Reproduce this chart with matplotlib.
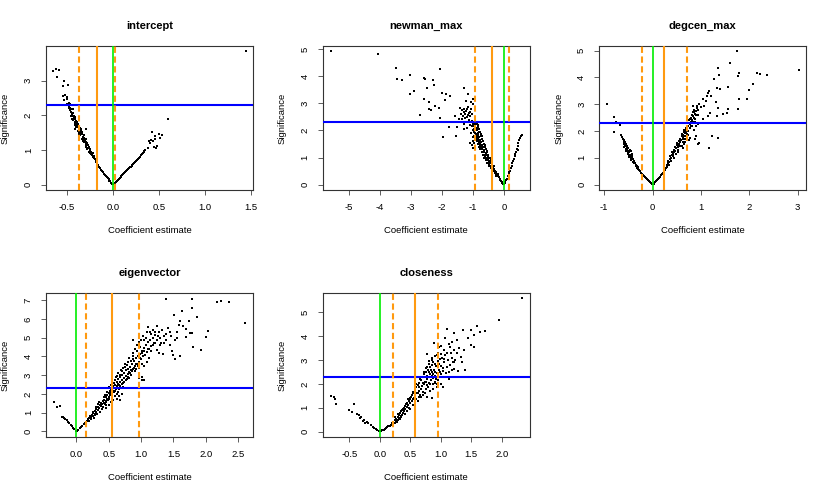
import numpy as np
import matplotlib
matplotlib.use("Agg")
import matplotlib.pyplot as plt

plt.rcParams['font.family'] = ['Liberation Sans', 'DejaVu Sans']

# --- data: (coefficient estimate, significance) ---
intercept_pts = [
    [-0.01,0.03],[-0.02,0.06],[-0.03,0.1],[-0.04,0.12],[-0.05,0.16],[-0.06,0.19],[-0.07,0.22],[-0.08,0.26],
    [-0.09,0.29],[-0.10,0.32],[-0.11,0.36],[-0.12,0.39],[-0.13,0.43],[-0.14,0.47],[-0.15,0.5],[-0.16,0.54],
    [-0.17,0.58],[-0.18,0.62],[-0.19,0.65],[-0.19,0.7],[-0.2,0.73],[-0.21,0.76],[-0.22,0.8],[-0.21,0.84],
    [-0.23,0.86],[-0.24,0.88],[-0.22,0.92],[-0.24,0.95],[-0.25,0.98],[-0.26,0.94],[-0.25,1.03],[-0.27,1.05],
    [-0.28,1.02],[-0.26,1.1],[-0.28,1.13],[-0.29,1.16],[-0.3,1.12],[-0.28,1.2],[-0.3,1.24],[-0.31,1.27],
    [-0.32,1.22],[-0.3,1.32],[-0.32,1.35],[-0.33,1.38],[-0.34,1.33],[-0.32,1.42],[-0.34,1.45],[-0.35,1.48],
    [-0.36,1.44],[-0.34,1.52],[-0.36,1.56],[-0.37,1.59],[-0.38,1.54],[-0.36,1.63],[-0.38,1.66],[-0.39,1.7],
    [-0.4,1.65],[-0.38,1.74],[-0.4,1.77],[-0.41,1.8],[-0.42,1.76],[-0.4,1.85],[-0.42,1.88],[-0.43,1.92],
    [-0.44,1.87],[-0.42,1.96],[-0.44,1.99],[-0.45,2.03],[-0.46,1.98],[-0.44,2.07],[-0.46,2.1],[-0.47,2.14],
    [-0.45,2.18],[-0.47,2.22],[-0.48,2.26],[-0.46,2.29],[-0.49,2.3],[-0.47,2.33],[-0.25,0.9],[-0.33,1.28],
    [-0.37,1.49],[-0.41,1.71],[-0.35,1.62],[-0.39,1.82],[-0.3,1.6],
    [-0.27,1.15],[-0.29,1.08],[-0.31,1.33],[-0.33,1.25],[-0.35,1.55],[-0.37,1.45],[-0.39,1.75],[-0.41,1.62],
    [-0.43,1.98],[-0.45,1.9],[-0.44,2.17],[-0.48,2.2],
    [-0.48,2.35],[-0.5,2.32],[-0.44,2.29],[-0.53,2.45],[-0.55,2.55],[-0.5,2.52],[-0.5,2.46],[-0.52,2.6],
    [-0.49,2.87],[-0.53,3.0],[-0.61,3.12],[-0.59,3.3],[-0.62,3.35],[-0.65,3.27],[-0.55,2.85],
    [0.01,0.03],[0.02,0.06],[0.03,0.09],[0.04,0.11],[0.05,0.14],[0.06,0.17],[0.07,0.2],[0.08,0.22],
    [0.09,0.25],[0.1,0.28],[0.11,0.31],[0.12,0.33],[0.13,0.36],[0.14,0.39],[0.15,0.42],[0.16,0.44],
    [0.17,0.47],[0.18,0.5],[0.19,0.52],[0.2,0.55],[0.21,0.58],[0.22,0.6],[0.23,0.63],[0.24,0.66],
    [0.25,0.68],[0.26,0.72],[0.27,0.75],[0.28,0.78],[0.29,0.8],[0.3,0.85],[0.31,0.88],[0.32,0.9],
    [0.33,0.94],[0.34,0.98],[0.35,1.0],[0.38,1.05],[0.39,1.25],[0.4,1.2],[0.41,1.3],[0.42,1.53],
    [0.43,1.27],[0.44,1.1],[0.45,1.33],[0.46,1.4],[0.47,1.05],[0.48,1.12],[0.5,1.46],[0.51,1.36],
    [0.53,1.43],[0.6,1.88],[1.44,3.85],
]

newman_pts = [
    [-5.57,4.95],[-4.05,4.82],[-3.47,4.32],[-3.43,3.89],[-3.28,3.85],[-3.01,4.04],[-2.56,3.94],[-2.53,3.91],
    [-2.28,3.86],[-2.07,4.28],[-2.26,3.67],[-2.47,3.56],[-2.9,3.46],[-3.03,3.36],[-2.58,3.17],[-2.42,3.05],
    [-2.4,2.78],[-2.34,2.76],[-2.21,2.9],[-2.08,2.84],[-2.05,2.47],[-2.69,2.56],[-2.0,3.4],[-1.86,3.36],
    [-1.73,3.27],[-1.89,3.13],[-1.3,3.57],[-1.16,3.33],[-1.41,2.84],[-1.57,2.53],[-1.76,2.13],[-1.96,1.77],
    [-1.55,1.8],[-1.51,2.13],[-1.46,2.41],[-0.98,3.15],[-0.98,2.96],[-1.22,3.1],[-1.05,3.05],
    [-1.38,2.6],[-1.35,2.75],[-1.32,2.55],[-1.3,2.68],[-1.28,2.8],[-1.26,2.45],[-1.24,2.62],[-1.22,2.72],
    [-1.2,2.5],[-1.18,2.78],[-1.16,2.58],[-1.14,2.66],[-1.12,2.4],[-1.1,2.7],[-1.08,2.52],[-1.06,2.78],
    [-1.04,2.35],[-1.02,2.6],[-1.35,2.42],[-1.42,2.3],[-1.25,2.32],[-1.15,2.85],[-1.1,2.2],[-1.3,2.05],
    [-1.2,2.1],[-1.05,1.9],[-1.0,1.75],[-1.03,2.15],[-1.28,2.25],
    [-0.96,2.3],[-0.92,2.25],[-0.88,2.28],[-0.85,2.2],[-0.95,2.15],[-0.9,2.1],[-0.82,2.12],[-0.93,2.02],
    [-0.87,2.0],[-0.8,2.05],[-0.97,1.95],[-0.84,1.92],[-0.78,1.95],[-0.9,1.88],[-0.82,1.85],[-0.75,1.86],
    [-0.95,1.8],[-0.86,1.78],[-0.79,1.76],[-0.72,1.78],[-0.9,1.7],[-0.83,1.68],[-0.76,1.66],[-0.7,1.7],
    [-0.87,1.6],[-0.8,1.58],[-0.73,1.58],[-0.67,1.6],[-0.83,1.5],[-0.76,1.5],[-0.7,1.48],[-0.64,1.5],
    [-0.8,1.4],[-0.73,1.4],[-0.66,1.38],[-0.6,1.4],[-0.77,1.3],[-0.7,1.3],[-0.63,1.28],[-0.57,1.3],
    [-0.72,1.2],[-0.65,1.2],[-0.59,1.18],[-0.53,1.2],[-0.68,1.1],[-0.61,1.1],[-0.55,1.08],[-0.5,1.1],
    [-0.64,1.0],[-0.57,1.0],[-0.51,0.98],[-0.46,1.0],[-0.58,0.9],[-0.52,0.9],[-0.47,0.88],[-0.42,0.9],
    [-0.53,0.8],[-0.47,0.8],[-0.42,0.78],[-0.38,0.8],[-0.47,0.7],[-0.42,0.7],[-0.37,0.68],[-0.33,0.7],
    [-0.4,0.6],[-0.35,0.6],[-0.31,0.58],[-0.33,0.5],[-0.29,0.5],[-0.26,0.48],[-0.27,0.4],[-0.23,0.4],
    [-0.2,0.38],[-0.2,0.3],[-0.17,0.28],[-0.14,0.22],[-0.12,0.18],[-0.1,0.15],[-0.07,0.1],[-0.05,0.07],
    [-0.03,0.04],[-0.01,0.01],[-1.0,1.6],[-1.02,1.45],[-0.98,1.35],[-1.08,1.55],[-0.99,2.0],[-1.0,2.22],
    [-0.93,2.35],[-0.9,2.22],[-0.86,2.1],[-0.8,1.95],[-0.74,1.8],[-0.68,1.62],[-0.62,1.45],[-0.56,1.25],
    [-0.5,1.05],[-0.44,0.85],[-0.38,0.65],[-0.92,1.9],[-0.88,1.75],[-0.85,1.62],[-0.78,1.45],[-0.75,1.35],
    [-0.69,1.2],[-0.62,1.05],[-0.55,0.9],[-0.48,0.75],[-0.43,0.62],[-0.36,0.5],[-0.3,0.42],[-0.24,0.32],
    [-0.93,1.65],[-0.96,2.05],[-0.96,1.55],
    [0.02,0.05],[0.05,0.1],[0.08,0.17],[0.1,0.22],[0.13,0.3],[0.15,0.38],[0.18,0.45],[0.2,0.52],
    [0.22,0.6],[0.25,0.7],[0.27,0.78],[0.3,0.86],[0.32,0.95],[0.35,1.05],[0.37,1.12],[0.4,1.22],
    [0.42,1.3],[0.45,1.42],[0.47,1.55],[0.52,1.72],[0.55,1.8],[0.57,1.84],[0.5,1.65],[0.44,1.28],[0.38,1.2],
]

degcen_pts = [
    [-0.95,2.99],[-0.79,2.52],[-0.76,2.33],[-0.74,2.3],[-0.72,2.28],[-0.67,2.21],[-0.79,1.96],
    [-0.65,1.85],[-0.63,1.78],[-0.62,1.7],[-0.6,1.65],[-0.6,1.58],[-0.58,1.52],[-0.56,1.45],[-0.55,1.5],
    [-0.53,1.38],[-0.52,1.3],[-0.55,1.32],[-0.5,1.25],[-0.48,1.2],[-0.51,1.15],[-0.46,1.12],[-0.44,1.05],
    [-0.48,1.02],[-0.42,1.0],[-0.4,0.95],[-0.45,0.92],[-0.38,0.9],[-0.41,0.85],[-0.36,0.8],[-0.35,0.75],
    [-0.33,0.7],[-0.31,0.65],[-0.3,0.6],[-0.28,0.55],[-0.26,0.5],[-0.24,0.45],[-0.22,0.4],[-0.2,0.36],
    [-0.18,0.32],[-0.16,0.28],[-0.14,0.24],[-0.12,0.2],[-0.1,0.16],[-0.08,0.12],[-0.06,0.09],[-0.04,0.06],
    [-0.02,0.03],[-0.47,1.1],[-0.43,1.08],[-0.5,1.35],[-0.57,1.6],[-0.38,0.85],[-0.45,1.25],
    [-0.58,1.4],[-0.54,1.25],[-0.49,1.12],[-0.44,0.98],[-0.39,0.82],[-0.42,1.15],[-0.47,1.3],[-0.52,1.45],
    [-0.35,0.7],[-0.32,0.62],[-0.5,1.18],[-0.43,0.95],
    [0.02,0.03],[0.04,0.07],[0.06,0.1],[0.08,0.14],[0.1,0.18],[0.12,0.22],[0.14,0.26],[0.16,0.3],
    [0.18,0.35],[0.2,0.4],[0.22,0.45],[0.24,0.5],[0.26,0.55],[0.28,0.62],[0.29,0.7],[0.3,0.75],
    [0.32,0.8],[0.33,0.9],[0.35,0.85],[0.36,0.95],[0.37,1.05],[0.39,1.0],[0.4,1.1],[0.42,1.15],
    [0.41,1.22],[0.44,1.2],[0.45,1.3],[0.47,1.25],[0.46,1.4],[0.49,1.38],[0.5,1.48],[0.52,1.42],
    [0.51,1.55],[0.54,1.52],[0.55,1.62],[0.57,1.58],[0.56,1.7],[0.59,1.68],[0.6,1.8],[0.62,1.75],
    [0.61,1.88],[0.64,1.85],[0.65,1.95],[0.67,1.92],[0.66,2.05],[0.69,2.02],[0.7,2.12],[0.72,2.08],
    [0.71,2.2],[0.74,2.18],[0.75,2.3],[0.77,2.25],[0.76,2.4],[0.79,2.35],[0.8,2.5],[0.82,2.42],
    [0.81,2.6],[0.84,2.55],[0.86,2.7],[0.88,2.62],[0.85,2.8],[0.9,2.75],[0.92,2.85],[0.95,2.8],
    [0.68,1.6],[0.6,1.45],[0.78,1.75],[0.72,1.9],[0.63,1.35],[0.53,1.2],[0.45,1.0],[0.65,1.5],
    [0.7,1.8],[0.82,2.2],[0.88,2.35],[0.75,1.65],
    [0.3,0.65],[0.34,0.75],[0.38,0.88],[0.43,1.05],[0.48,1.15],[0.52,1.3],[0.55,1.45],[0.58,1.45],
    [0.62,1.6],[0.66,1.8],[0.68,1.72],[0.73,2.0],[0.77,2.12],[0.8,2.2],[0.83,2.35],[0.86,2.5],
    [0.88,2.45],[0.93,2.6],[0.74,1.85],[0.7,1.95],[0.63,1.7],[0.78,2.45],[0.84,2.7],[0.9,2.6],
    [0.83,2.93],[0.97,2.99],[1.1,3.12],[1.14,3.43],[1.17,3.49],[1.75,5.0],[1.6,4.55],[1.35,4.36],
    [1.28,3.95],[1.38,4.08],[1.33,3.62],[1.4,3.58],[1.56,3.64],[1.79,4.17],[1.76,4.05],[2.15,4.17],
    [2.22,4.11],[2.37,4.08],[3.03,4.27],[2.08,3.76],[2.0,3.52],[1.95,3.2],[1.78,3.2],[1.76,2.81],
    [1.57,2.81],[1.53,2.68],[1.45,2.62],[1.35,2.87],[1.31,3.08],[1.33,2.56],[1.22,1.81],[1.35,1.75],
    [1.16,1.35],[0.97,1.54],[0.9,1.81],[0.97,2.31],[1.04,2.31],[1.14,2.56],[1.19,2.68],[1.07,2.93],
    [1.04,3.18],[1.12,3.3],[1.2,3.3],[1.0,2.9],[0.92,2.95],[1.05,2.45],[0.95,2.25],[0.9,2.2],
    [0.85,2.05],[0.93,1.5],[0.88,1.7],
]

eigen_pts = [
    [-0.35,1.59],[-0.3,1.32],[-0.26,1.36],[-0.22,0.79],[-0.2,0.75],[-0.19,0.71],[-0.17,0.66],[-0.15,0.6],
    [-0.13,0.52],[-0.11,0.44],[-0.09,0.36],[-0.07,0.28],[-0.05,0.2],[-0.03,0.12],[-0.01,0.04],
    [0.01,0.04],[0.03,0.1],[0.05,0.17],[0.07,0.24],[0.09,0.3],[0.11,0.37],[0.13,0.44],[0.15,0.5],
    [0.17,0.57],[0.18,0.65],[0.2,0.7],[0.21,0.8],[0.22,0.75],[0.24,0.9],[0.25,0.82],[0.26,1.0],
    [0.28,0.95],[0.28,1.1],[0.3,1.05],[0.31,1.2],[0.33,1.15],[0.33,1.3],[0.35,1.25],[0.36,1.4],
    [0.38,1.35],[0.38,1.5],[0.4,1.45],[0.41,1.6],[0.43,1.52],[0.43,1.7],[0.45,1.62],[0.46,1.82],
    [0.48,1.75],[0.48,1.95],[0.5,1.85],[0.5,2.05],[0.52,1.95],[0.52,2.15],[0.54,2.05],[0.54,2.25],
    [0.56,2.18],[0.57,2.4],[0.59,2.3],[0.6,2.5],[0.62,2.4],[0.62,2.65],[0.64,2.55],[0.65,2.8],
    [0.67,2.65],[0.68,2.9],[0.7,2.75],[0.71,3.0],[0.73,2.85],[0.74,3.1],[0.76,2.95],[0.77,3.25],
    [0.79,3.05],[0.8,3.35],[0.82,3.15],[0.83,3.45],[0.85,3.25],[0.86,3.6],[0.88,3.35],[0.89,3.75],
    [0.91,3.5],[0.92,3.9],[0.94,3.6],[0.95,4.0],[0.97,3.7],[0.98,4.15],[1.0,3.85],[1.01,4.3],
    [1.03,4.0],[1.04,4.45],[1.06,4.1],[1.07,4.6],[1.09,4.25],[1.1,4.75],[1.12,4.4],[1.14,4.9],
    [1.16,4.55],[1.18,5.0],[1.2,4.7],[1.22,5.15],[1.25,4.85],[1.28,5.3],[1.3,5.0],[1.33,5.4],
    [1.36,5.1],[0.45,1.4],[0.55,1.9],[0.58,2.6],[0.66,2.45],[0.72,2.6],[0.78,2.8],[0.84,3.0],
    [0.9,3.2],[0.96,3.4],[1.02,3.6],[0.6,2.15],[0.7,3.2],[0.8,3.7],[0.88,4.0],[0.93,4.3],
    [0.98,4.5],[1.05,4.9],[0.35,1.55],[0.63,2.95],[0.75,3.45],[0.87,3.85],[0.5,2.3],[0.42,1.85],
    [0.3,1.3],[0.82,2.85],[0.92,3.35],[0.66,2.25],[1.12,3.9],[1.05,3.5],[0.97,2.85],[1.01,2.75],
    [1.05,2.73],[1.01,2.91],[1.09,3.7],[0.88,4.85],[0.72,2.35],[0.4,1.2],[0.62,2.0],
    [0.2,0.55],[0.23,0.65],[0.25,1.05],[0.27,0.7],[0.29,0.85],[0.32,0.95],[0.34,1.45],[0.36,1.05],
    [0.39,1.2],[0.41,1.3],[0.44,1.45],[0.44,1.95],[0.46,1.55],[0.47,2.1],[0.49,1.65],[0.51,1.75],
    [0.51,2.35],[0.53,2.45],[0.55,2.0],[0.56,2.6],[0.58,2.1],[0.59,2.75],[0.61,2.25],[0.61,2.9],
    [0.63,2.3],[0.64,3.1],[0.65,2.1],[0.67,3.0],[0.68,2.4],[0.69,3.3],[0.71,2.55],[0.72,3.4],
    [0.74,2.65],[0.75,3.6],[0.77,2.75],[0.78,3.55],[0.79,2.9],[0.81,3.9],[0.83,3.1],[0.84,3.75],
    [0.86,3.2],[0.87,4.2],[0.89,3.4],[0.9,4.4],[0.92,3.6],[0.94,4.6],[0.95,3.5],[0.97,4.75],
    [0.99,3.9],[1.0,4.9],[1.02,4.2],[1.03,5.1],[1.05,4.3],[1.08,5.0],[1.1,4.4],[1.13,5.3],
    [1.15,4.3],[1.18,4.6],[1.19,5.4],[1.22,4.7],[1.26,5.1],[1.31,4.7],[0.66,1.9],[0.7,2.0],
    [0.73,2.3],[0.68,1.7],[0.62,1.75],[0.57,1.65],[0.53,1.55],[0.6,1.9],[0.46,1.25],[0.51,1.4],
    [1.38,7.05],[1.78,7.05],[1.78,6.58],[2.17,6.91],[2.24,6.93],[2.36,6.88],[2.61,5.77],[2.04,5.33],
    [2.01,5.06],[1.93,4.32],[1.81,4.5],[1.79,5.24],[1.87,6.12],[1.74,5.87],[1.63,6.4],[1.51,6.21],
    [1.6,5.91],[1.65,5.64],[1.69,5.45],[1.75,5.26],[1.56,5.29],[1.47,5.11],[1.52,4.89],[1.39,4.85],
    [1.45,4.59],[1.5,4.06],[1.53,3.88],[1.34,4.11],[1.24,4.36],[1.29,4.59],[1.21,5.29],[1.11,5.56],
    [1.09,5.29],[1.42,5.5],[1.55,5.0],[1.6,4.0],[1.25,5.6],[1.35,4.7],[1.45,5.3],[1.58,5.7],
    [1.7,5.05],[1.48,4.3],[1.15,5.2],[1.27,4.2],[1.38,5.2],
]

closeness_pts = [
    [-0.8,1.49],[-0.75,1.46],[-0.74,1.35],[-0.72,1.18],[-0.42,1.15],[-0.5,0.9],[-0.45,0.81],[-0.34,0.69],
    [-0.31,0.63],[-0.38,0.75],[-0.33,0.58],[-0.26,0.49],[-0.22,0.42],[-0.19,0.35],[-0.15,0.28],[-0.12,0.21],
    [-0.09,0.15],[-0.07,0.1],[-0.04,0.06],[-0.02,0.03],[-0.28,0.45],[-0.24,0.38],
    [0.02,0.03],[0.04,0.06],[0.06,0.09],[0.08,0.12],[0.1,0.15],[0.12,0.18],[0.14,0.22],[0.16,0.26],
    [0.18,0.3],[0.2,0.28],[0.2,0.36],[0.22,0.4],[0.24,0.35],[0.24,0.48],[0.26,0.45],[0.27,0.55],
    [0.28,0.42],[0.29,0.62],[0.3,0.5],[0.31,0.7],[0.32,0.58],[0.33,0.78],[0.34,0.65],[0.35,0.85],
    [0.36,0.72],[0.37,0.92],[0.38,0.8],[0.39,1.0],[0.4,0.88],[0.41,1.08],[0.42,0.95],[0.43,1.15],
    [0.44,1.02],[0.45,1.22],[0.46,1.1],[0.47,1.3],[0.48,1.0],[0.49,1.38],[0.5,1.2],[0.51,1.45],
    [0.52,1.28],[0.53,1.55],[0.54,1.35],[0.55,1.65],[0.56,1.42],[0.57,1.75],[0.58,1.5],[0.6,1.85],
    [0.6,1.35],[0.62,1.6],[0.63,1.95],[0.64,1.7],[0.65,2.05],[0.66,1.55],[0.67,1.8],[0.68,2.15],
    [0.69,1.9],[0.7,2.3],[0.71,1.65],[0.72,2.0],[0.73,2.4],[0.74,2.1],[0.75,1.8],[0.76,2.5],
    [0.77,2.2],[0.78,1.95],[0.79,2.6],[0.8,2.3],[0.81,2.05],[0.82,2.7],[0.83,2.4],[0.84,2.15],
    [0.85,2.8],[0.86,2.5],[0.87,2.25],[0.88,2.9],[0.89,2.6],[0.9,2.1],[0.91,2.35],[0.92,2.75],
    [0.93,2.0],[0.94,2.45],[0.95,2.95],[0.96,2.3],[0.97,2.6],[0.98,3.05],[1.0,2.4],[1.01,2.75],
    [1.02,3.1],[1.04,2.55],[1.05,2.9],[1.07,3.2],[1.08,2.3],[1.1,2.7],[1.12,3.0],[1.14,2.5],
    [1.16,3.3],[1.18,2.6],[1.2,2.9],[1.22,3.4],[0.75,2.65],[0.8,2.85],[0.85,3.0],[0.9,3.15],
    [0.95,3.3],[0.7,1.55],[0.65,1.45],[0.55,1.1],[0.45,0.85],[0.35,0.6],[0.82,1.7],[0.88,1.8],
    [0.8,2.5],[0.9,2.5],[1.0,2.0],[0.6,1.6],[0.5,1.4],[0.4,1.0],
    [0.25,0.6],[0.3,0.75],[0.33,0.55],[0.38,0.95],[0.42,0.75],[0.46,1.35],[0.5,0.95],[0.54,1.6],
    [0.57,1.2],[0.6,2.0],[0.62,1.3],[0.66,2.2],[0.68,1.45],[0.72,2.5],[0.74,1.6],[0.77,2.7],
    [0.79,1.85],[0.81,2.95],[0.83,2.0],[0.85,2.35],[0.86,3.1],[0.87,2.0],[0.9,2.85],[0.92,2.2],
    [0.93,3.2],[0.95,2.15],[0.97,2.85],[0.99,2.5],[1.0,3.25],[1.03,2.65],[1.06,3.05],[1.09,2.45],
    [1.11,3.3],[1.15,2.8],[1.19,3.1],[1.24,3.0],[1.27,3.3],[0.76,2.1],[0.84,2.6],[0.88,2.4],
    [0.96,2.7],[0.91,2.05],[0.78,2.35],[0.71,2.05],[0.64,1.85],
    [2.33,5.58],[1.96,4.69],[1.59,4.4],[1.49,4.24],[1.37,4.24],[1.64,4.17],[1.73,4.21],[1.11,4.31],
    [1.22,4.13],[1.26,3.82],[1.13,3.68],[1.07,3.93],[0.89,3.71],[0.97,3.54],[1.49,3.61],[1.38,3.4],
    [1.33,3.13],[1.22,2.92],[1.22,2.64],[1.13,2.22],[1.03,1.88],[0.94,1.88],[0.86,1.39],[0.78,1.46],
    [1.54,3.54],[0.78,3.26],[1.3,3.5],[1.45,3.9],[1.55,4.05],[1.05,3.4],[1.15,3.55],[1.28,2.55],
    [1.35,2.9],[1.18,3.75],[1.0,3.6],[1.25,2.3],[1.4,2.6],
]

titles = ["intercept", "newman_max", "degcen_max", "eigenvector", "closeness"]
panel_points = [intercept_pts, newman_pts, degcen_pts, eigen_pts, closeness_pts]

# vertical reference lines: point estimate (solid orange), interval (dashed orange)
estimates = [-0.175, -0.38, 0.24, 0.555, 0.58]
lower_ci = [-0.37, -0.94, -0.22, 0.15, 0.21]
upper_ci = [0.02, 0.18, 0.71, 0.965, 0.955]
signif_cut = 2.3

xlims = [(-0.73, 1.52), (-5.84, 0.83), (-1.1, 3.18), (-0.47, 2.73), (-0.94, 2.46)]
ylims = [(-0.154, 4.0), (-0.2, 5.12), (-0.2, 5.17), (-0.3, 7.38), (-0.22, 5.8)]
xticks = [[-0.5, 0.0, 0.5, 1.0, 1.5], [-5, -4, -3, -2, -1, 0], [-1, 0, 1, 2, 3],
          [0.0, 0.5, 1.0, 1.5, 2.0, 2.5], [-0.5, 0.0, 0.5, 1.0, 1.5, 2.0]]
xtick_labels = [["-0.5", "0.0", "0.5", "1.0", "1.5"], ["-5", "-4", "-3", "-2", "-1", "0"],
                ["-1", "0", "1", "2", "3"], ["0.0", "0.5", "1.0", "1.5", "2.0", "2.5"],
                ["-0.5", "0.0", "0.5", "1.0", "1.5", "2.0"]]
yticks = [[0, 1, 2, 3], [0, 1, 2, 3, 4, 5], [0, 1, 2, 3, 4, 5],
          [0, 1, 2, 3, 4, 5, 6, 7], [0, 1, 2, 3, 4, 5]]

W, H = 830, 494
fig = plt.figure(figsize=(W / 100, H / 100), dpi=100)

orange = '#ff9a10'
fs = 6.8

for i in range(5):
    row, col = divmod(i, 3)
    left = col * W / 3 + 46
    top = 46 + row * 247
    ax = fig.add_axes([left / W, 1 - (top + 144) / H, 207 / W, 144 / H])

    pts = np.array(panel_points[i])
    ax.scatter(pts[:, 0], pts[:, 1], s=1.6, c='black', marker='s', linewidths=0, zorder=2)

    ax.axhline(signif_cut, color='#0000ff', lw=1.5, zorder=3)
    ax.axvline(estimates[i], color=orange, lw=1.5, zorder=3)
    for v in (lower_ci[i], upper_ci[i]):
        ax.axvline(v, color=orange, lw=1.5, ls=(0, (3, 1.7)), zorder=3)
    ax.axvline(0, color='#00ee00', lw=1.2, zorder=3)

    ax.set_xlim(*xlims[i])
    ax.set_ylim(*ylims[i])
    ax.set_xticks(xticks[i])
    ax.set_xticklabels(xtick_labels[i])
    ax.set_yticks(yticks[i])
    ax.set_yticklabels([str(t) for t in yticks[i]], rotation=90, va='center')
    ax.tick_params(length=3.5, width=0.6, labelsize=fs, pad=6, color='#444444')
    for s in ax.spines.values():
        s.set_linewidth(0.8)
        s.set_color('#333333')

    ax.set_title(titles[i], fontsize=8, fontweight='bold', pad=12)
    ax.set_xlabel("Coefficient estimate", fontsize=fs, labelpad=10)
    ax.set_ylabel("Significance", fontsize=fs, labelpad=10)

fig.savefig("out.png", dpi=100)
